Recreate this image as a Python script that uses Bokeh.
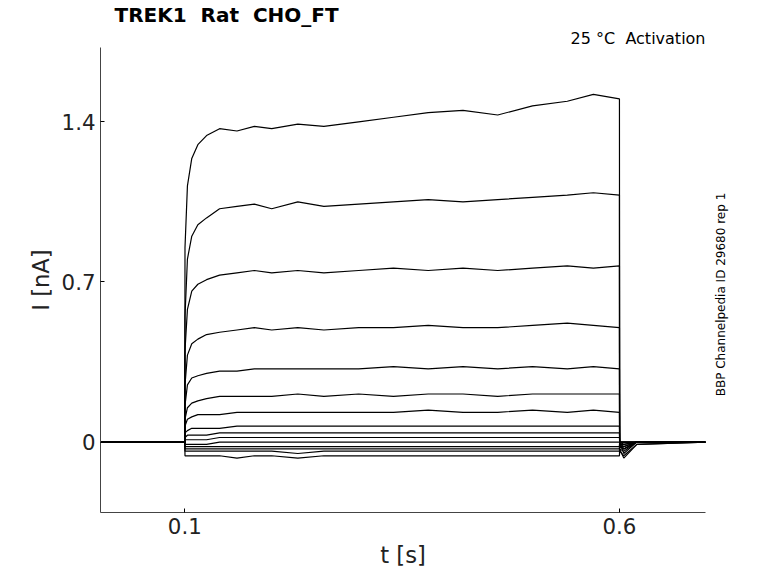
import math
from bokeh.plotting import figure
from bokeh.models import Range1d, Title, FixedTicker, LinearAxis
from bokeh.embed import file_html
from bokeh.resources import INLINE

t = [0.003,0.1,0.1002,0.103,0.108,0.115,0.125,0.14,0.16,0.18,0.2,0.23,0.26,0.3,0.34,0.38,0.42,0.46,0.5,0.54,0.57,0.6,0.6002,0.605,0.62,0.699]
traces = [
 [0,0,0.85,1.12,1.24,1.30,1.34,1.37,1.36,1.38,1.37,1.39,1.38,1.40,1.42,1.44,1.45,1.43,1.47,1.49,1.52,1.50,-0.02,-0.03,0.0,0.0],
 [0,0,0.55,0.80,0.90,0.95,0.98,1.02,1.03,1.04,1.02,1.05,1.03,1.04,1.05,1.06,1.05,1.06,1.07,1.08,1.09,1.08,-0.04,-0.06,-0.01,0.0],
 [0,0,0.40,0.58,0.66,0.69,0.71,0.73,0.74,0.75,0.74,0.75,0.74,0.75,0.76,0.75,0.76,0.75,0.76,0.77,0.76,0.77,-0.03,-0.04,0.0,0.0],
 [0,0,0.25,0.38,0.43,0.45,0.47,0.48,0.49,0.50,0.49,0.50,0.49,0.50,0.50,0.51,0.50,0.50,0.51,0.52,0.51,0.50,-0.02,-0.03,0.0,0.0],
 [0,0,0.16,0.25,0.28,0.29,0.30,0.31,0.31,0.32,0.32,0.32,0.32,0.32,0.33,0.32,0.33,0.32,0.33,0.32,0.33,0.32,-0.02,-0.02,0.0,0.0],
 [0,0,0.10,0.15,0.17,0.18,0.19,0.20,0.20,0.20,0.20,0.21,0.20,0.21,0.20,0.21,0.21,0.20,0.21,0.21,0.21,0.21,-0.01,-0.01,0.0,0.0],
 [0,0,0.07,0.10,0.11,0.12,0.12,0.12,0.13,0.13,0.13,0.13,0.13,0.13,0.13,0.14,0.13,0.13,0.14,0.13,0.14,0.13,0.0,-0.01,0.0,0.0],
 [0,0,0.04,0.05,0.06,0.06,0.06,0.06,0.07,0.07,0.07,0.07,0.07,0.07,0.07,0.07,0.07,0.07,0.07,0.07,0.07,0.07,0.0,0.0,0.0,0.0],
 [0,0,0.02,0.03,0.03,0.03,0.03,0.04,0.04,0.04,0.04,0.04,0.04,0.04,0.04,0.04,0.04,0.04,0.04,0.04,0.04,0.04,0.0,0.0,0.0,0.0],
 [0,0,0.01,0.01,0.01,0.01,0.01,0.02,0.02,0.02,0.02,0.02,0.02,0.02,0.02,0.02,0.02,0.02,0.02,0.02,0.02,0.02,0.0,0.0,0.0,0.0],
 [0,0,-0.01,-0.01,-0.01,-0.01,-0.01,0.0,0.0,0.0,0.0,0.0,0.0,0.0,0.0,0.0,0.0,0.0,0.0,0.0,0.0,0.0,0.0,0.0,0.0,0.0],
 [0,0,-0.02,-0.02,-0.02,-0.02,-0.02,-0.02,-0.02,-0.02,-0.02,-0.02,-0.02,-0.02,-0.02,-0.02,-0.02,-0.02,-0.02,-0.02,-0.02,-0.02,0.0,-0.02,0.0,0.0],
 [0,0,-0.03,-0.03,-0.03,-0.03,-0.03,-0.03,-0.03,-0.03,-0.03,-0.03,-0.03,-0.03,-0.03,-0.03,-0.03,-0.03,-0.03,-0.03,-0.03,-0.03,0.0,-0.03,0.0,0.0],
 [0,0,-0.04,-0.04,-0.04,-0.04,-0.04,-0.04,-0.04,-0.04,-0.04,-0.05,-0.04,-0.04,-0.04,-0.04,-0.04,-0.04,-0.04,-0.04,-0.04,-0.04,0.0,-0.05,0.0,0.0],
 [0,0,-0.06,-0.06,-0.06,-0.06,-0.06,-0.06,-0.07,-0.06,-0.06,-0.07,-0.06,-0.06,-0.06,-0.06,-0.06,-0.06,-0.06,-0.06,-0.06,-0.06,-0.03,-0.07,-0.01,0.0],
]
x_ticks = [0.1, 0.6]
y_ticks = [0, 0.7, 1.4]

p = figure(width=762, height=570, output_backend="svg", toolbar_location=None,
           x_range=Range1d(0.003, 0.699), y_range=Range1d(-0.308, 1.725),
           min_border_left=100, min_border_right=57, min_border_top=0, min_border_bottom=52)
p.title = Title(text="TREK1\u00a0\u00a0Rat\u00a0\u00a0CHO_FT", text_font="DejaVu Sans", text_font_size="15pt",
                text_font_style="bold", offset=14, text_color="black", standoff=0)
p.add_layout(Title(text="25 °C\u00a0\u00a0Activation", align="right", text_font="DejaVu Sans",
                   text_font_size="12pt", text_font_style="normal", text_color="black",
                   standoff=0, offset=0), "above")
ra = LinearAxis(ticker=FixedTicker(ticks=[0.2]),
                major_label_overrides={0.2: "BBP Channelpedia ID 29680 rep 1"},
                axis_line_color=None, major_tick_line_color=None, minor_tick_line_color=None,
                major_label_text_font="DejaVu Sans", major_label_text_font_size="9pt",
                major_label_text_color="black", major_label_standoff=10,
                major_label_orientation=math.pi / 2)
p.add_layout(ra, "right")
for tr in traces:
    p.line(t, tr, line_color="black", line_width=1.2)
p.xgrid.visible = False
p.ygrid.visible = False
p.outline_line_color = None
p.below[0].ticker = FixedTicker(ticks=x_ticks)
p.left[0].ticker = FixedTicker(ticks=y_ticks)
p.left[0].major_label_overrides = {0: "0", 0.7: "0.7", 1.4: "1.4"}
for ax in (p.below[0], p.left[0]):
    ax.major_label_text_font = "DejaVu Sans"
    ax.major_label_text_font_size = "16pt"
    ax.axis_label_text_font = "DejaVu Sans"
    ax.axis_label_text_font_size = "17pt"
    ax.axis_label_text_font_style = "normal"
    ax.minor_tick_line_color = None
    ax.major_tick_in = 4
    ax.major_tick_out = 0
    ax.axis_line_color = "#444444"
    ax.major_label_text_color = "#222222"
    ax.axis_label_text_color = "#222222"
p.below[0].axis_label = "t [s]"
p.left[0].axis_label = "I [nA]"
open("out.html", "w").write(file_html(p, INLINE))
